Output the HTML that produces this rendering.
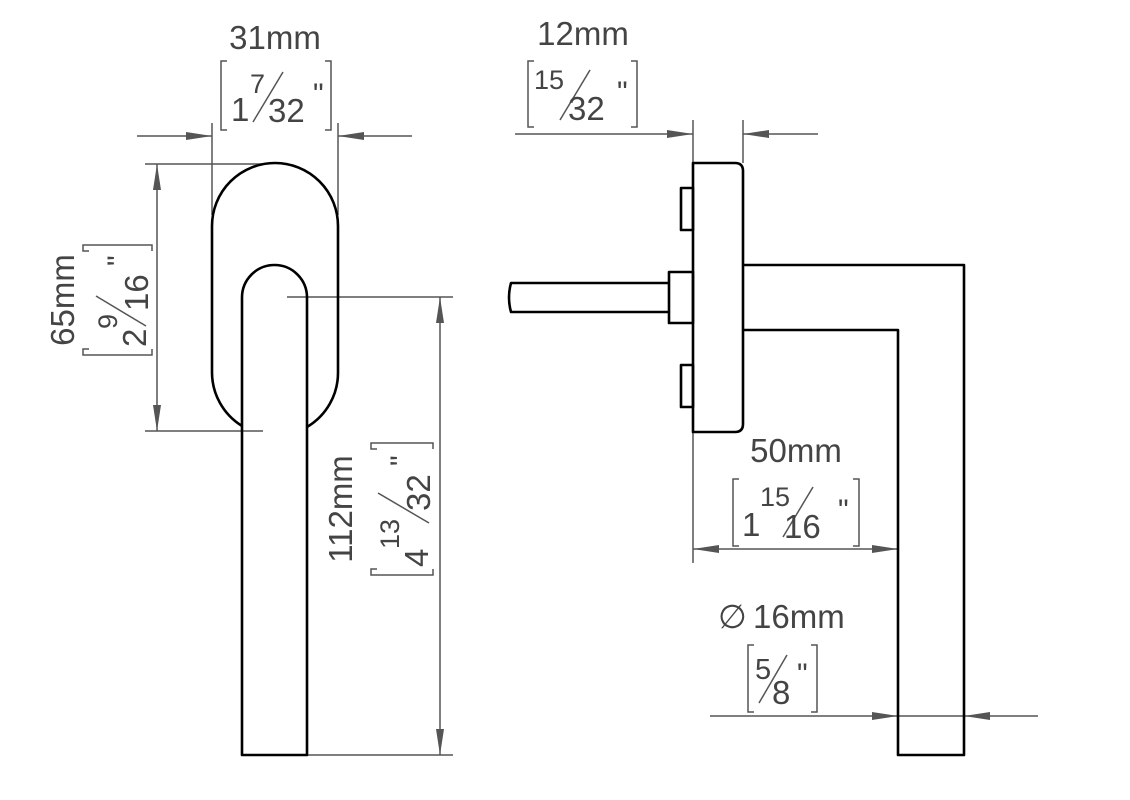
<!DOCTYPE html>
<html><head><meta charset="utf-8"><style>
html,body{margin:0;padding:0;background:#fff;}
svg{display:block;}
text{font-family:"Liberation Sans",sans-serif;fill:#444;}
</style></head><body>
<svg width="1130" height="800" viewBox="0 0 1130 800" xmlns="http://www.w3.org/2000/svg">
<defs>
<marker id="a" viewBox="0 0 26 9" refX="26" refY="4.5" markerWidth="26" markerHeight="9" markerUnits="userSpaceOnUse" orient="auto"><path d="M0,0.5 L26,4.5 L0,8.5 Z" fill="#555"/></marker>
</defs>
<g stroke="#555" stroke-width="1.5" fill="none">
 <line x1="137" y1="136" x2="212" y2="136" marker-end="url(#a)"/>
 <line x1="412" y1="136" x2="338" y2="136" marker-end="url(#a)"/>
 <line x1="212" y1="123" x2="212" y2="215"/>
 <line x1="338" y1="123" x2="338" y2="215"/>
 <line x1="145" y1="164" x2="265" y2="164"/>
 <line x1="145" y1="431" x2="263" y2="431"/>
 <line x1="157" y1="298" x2="157" y2="164" marker-end="url(#a)"/>
 <line x1="157" y1="298" x2="157" y2="431" marker-end="url(#a)"/>
 <line x1="287" y1="297" x2="453" y2="297"/>
 <line x1="300" y1="755" x2="453" y2="755"/>
 <line x1="440" y1="520" x2="440" y2="297" marker-end="url(#a)"/>
 <line x1="440" y1="520" x2="440" y2="755" marker-end="url(#a)"/>
 <line x1="515" y1="134" x2="693" y2="134" marker-end="url(#a)"/>
 <line x1="818" y1="134" x2="743" y2="134" marker-end="url(#a)"/>
 <line x1="693" y1="120" x2="693" y2="163"/>
 <line x1="743" y1="120" x2="743" y2="163"/>
 <line x1="693" y1="432" x2="693" y2="563"/>
 <line x1="795" y1="549" x2="693" y2="549" marker-end="url(#a)"/>
 <line x1="795" y1="549" x2="898" y2="549" marker-end="url(#a)"/>
 <line x1="710" y1="716" x2="898" y2="716" marker-end="url(#a)"/>
 <line x1="1038" y1="716" x2="964" y2="716" marker-end="url(#a)"/>
 <line x1="898" y1="716" x2="964" y2="716"/>
 <path d="M227,61 H221 V130 H227 M325,61 H331 V130 H325"/>
 <path d="M534,61 H528 V127 H534 M631,61 H637 V127 H631"/>
 <path d="M739,479 H733 V546 H739 M853,479 H859 V546 H853"/>
 <path d="M754,645 H748 V712 H754 M811,645 H817 V712 H811"/>
 <line x1="253" y1="122" x2="283" y2="72"/>
 <line x1="560" y1="120" x2="590" y2="70"/>
 <line x1="783" y1="537" x2="813" y2="487"/>
 <line x1="759" y1="703" x2="787" y2="655"/>
</g>
<g stroke="#000" stroke-width="2.6" fill="none" stroke-linejoin="round">
 <path d="M242 426 A63 63 0 0 1 212 372 L212 226 A63 63 0 0 1 338 226 L338 372 A63 63 0 0 1 307 427"/>
 <path d="M242 755 L242 297.5 A32.5 32.5 0 0 1 307 297.5 L307 755 Z"/>
 <path d="M693 163 L735 163 Q743 163 743 171 L743 424 Q743 432 735 432 L693 432 Z"/>
 <rect x="681" y="188" width="12" height="42"/>
 <rect x="681" y="365" width="12" height="42"/>
 <rect x="669" y="272" width="24" height="51"/>
 <path d="M669 283 L511 283 Q507 297.5 511 312 L669 312"/>
 <path d="M743 265 L964 265 L964 755 L898 755 L898 330 L743 330"/>
</g>
<g>
 <text x="275" y="49" font-size="33" text-anchor="middle">31mm</text>
 <text x="231" y="121" font-size="33">1</text>
 <text x="250" y="93" font-size="27">7</text>
 <text x="268" y="122" font-size="33">32</text>
 <text x="313" y="104" font-size="30">"</text>

 <text x="583" y="45" font-size="33" text-anchor="middle">12mm</text>
 <text x="534" y="89" font-size="27">15</text>
 <text x="568" y="120" font-size="33">32</text>
 <text x="617" y="102" font-size="30">"</text>

 <text x="796" y="462" font-size="33" text-anchor="middle">50mm</text>
 <text x="742" y="536" font-size="33">1</text>
 <text x="760" y="506" font-size="27">15</text>
 <text x="784" y="538" font-size="33">16</text>
 <text x="838" y="520" font-size="30">"</text>

 <text x="718" y="628" font-size="33">∅</text>
 <text x="753" y="628" font-size="33">16mm</text>
 <text x="755" y="679" font-size="29">5</text>
 <text x="772" y="704" font-size="33">8</text>
 <text x="797" y="684" font-size="30">"</text>

 <g transform="translate(0,300) rotate(-90)">
  <text x="0" y="74" font-size="33" text-anchor="middle">65mm</text>
  <path d="M-49,89 V83 H-55 V152 H-49 M49,89 V83 H55 V152 H49" stroke="#555" stroke-width="1.5" fill="none"/>
  <text x="-47" y="146" font-size="33">2</text>
  <text x="-29" y="117" font-size="27">9</text>
  <line x1="-26" y1="146" x2="4" y2="96" stroke="#555" stroke-width="1.5"/>
  <text x="-11" y="148" font-size="33">16</text>
  <text x="34" y="128" font-size="30">"</text>
 </g>
 <g transform="translate(0,509) rotate(-90)">
  <text x="0" y="352" font-size="33" text-anchor="middle">112mm</text>
  <path d="M-60,377 V371 H-66 V433 H-60 M60,377 V371 H66 V433 H60" stroke="#555" stroke-width="1.5" fill="none"/>
  <text x="-58" y="428" font-size="33">4</text>
  <text x="-40" y="399" font-size="27">13</text>
  <line x1="-14" y1="429" x2="16" y2="378" stroke="#555" stroke-width="1.5"/>
  <text x="-2" y="430" font-size="33">32</text>
  <text x="43" y="411" font-size="30">"</text>
 </g>
</g>
</svg>
</body></html>
